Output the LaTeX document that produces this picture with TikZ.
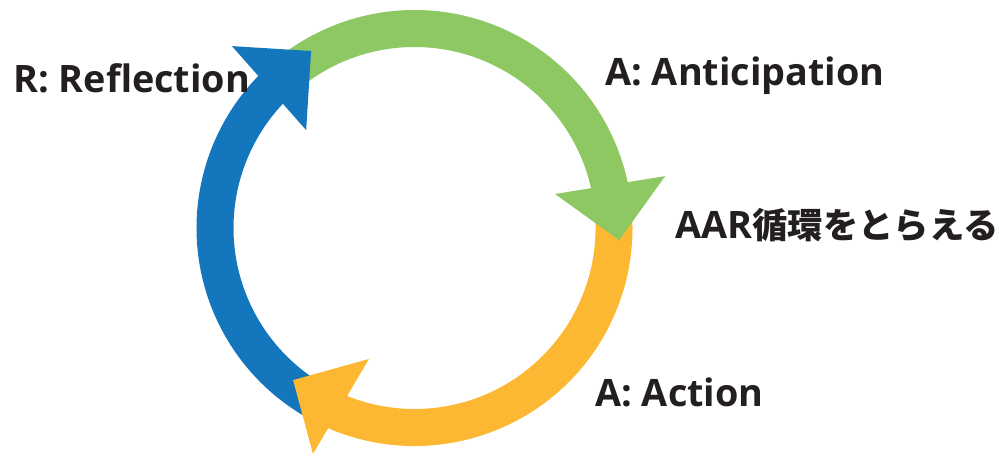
\documentclass[tikz,border=0pt]{standalone}
\usepackage{fontspec}
\setmainfont{Open Sans}
\newfontfamily\jpfont{Noto Sans CJK JP}
\usetikzlibrary{calc}
\definecolor{aarGreen}{HTML}{8DC863}
\definecolor{aarOrange}{HTML}{FCB833}
\definecolor{aarBlue}{HTML}{1476BD}
\definecolor{aarText}{HTML}{231F20}

\begin{document}
\begin{tikzpicture}[x=0.02cm, y=0.02cm]

    % --- Parameters ---
    \def\Rin{181}            % inner radius of the ring
    \def\Rout{218}           % outer radius of the ring

    \useasboundingbox (0,0) rectangle (999,457);
    \coordinate (C) at (414.5,229);

    % --- Styles ---
    \tikzstyle{ring_green} = [fill=aarGreen, shift={(C)}]
    \tikzstyle{ring_orange} = [fill=aarOrange, shift={(C)}]
    \tikzstyle{ring_blue} = [fill=aarBlue, shift={(C)}]
    \tikzstyle{lbl} = [text=aarText, inner sep=0pt, anchor=base west, font=\bfseries\fontsize{21.5}{26}\selectfont]

    % --- Shafts ---
    % Anticipation (green)
    \fill[ring_green] (126:\Rin) arc (126:11:\Rin) -- (11:\Rout) arc (11:126:\Rout) -- cycle;
    % Action (orange)
    \fill[ring_orange] (10:\Rin) arc (10:-114:\Rin) -- (-114:\Rout) arc (-114:10:\Rout) -- cycle;
    % Reflection (blue)
    \fill[ring_blue] (241:\Rin) arc (241:135:\Rin) -- (135:\Rout) arc (135:241:\Rout) -- cycle;

    % --- Heads ---
    \fill[ring_green] (13.6:144.6) -- (11.7:256) -- (-3.4:205) -- cycle;
    \fill[ring_orange] (250.8:138.7) -- (245.8:247.7) -- (231.4:194.6) -- cycle;
    \fill[ring_blue] (137.9:146) -- (135.1:257.7) -- (120.3:205) -- cycle;

    % --- Labels ---
    \node[lbl] (refl) at (13,364.3) {R: Reflection};
    \node[lbl] (antic) at (605,371.3) {A: Anticipation};
    \node[lbl] (aar) at (675,219) {AAR{\jpfont\bfseries\fontsize{20.1}{25}\selectfont 循環をとらえる}};
    \node[lbl] (act) at (595,50.3) {A: Action};

\end{tikzpicture}
\end{document}
